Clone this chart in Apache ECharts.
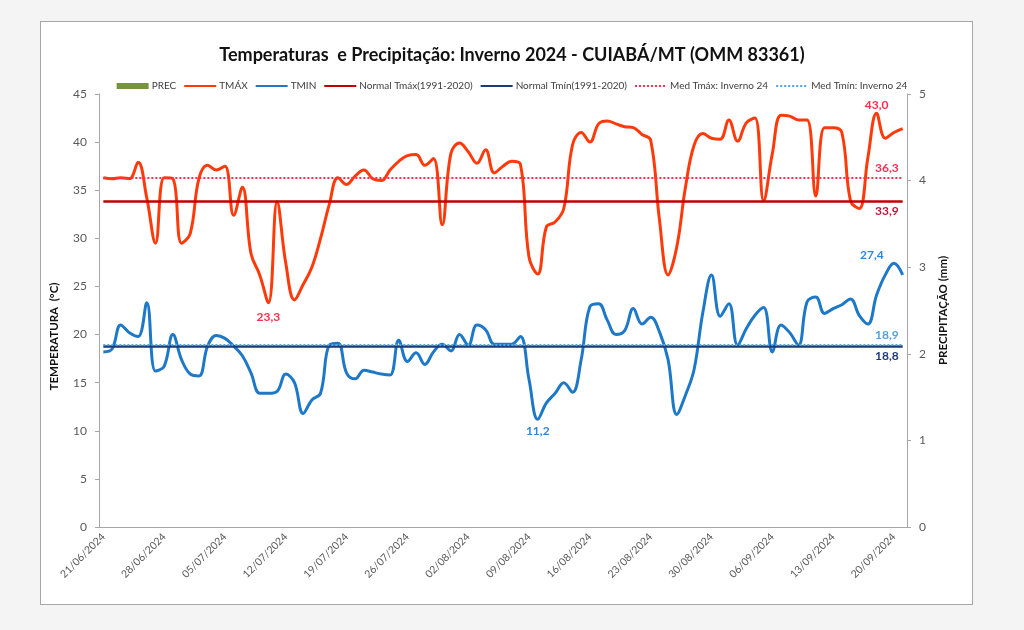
<!DOCTYPE html>
<html>
<head>
<meta charset="utf-8">
<script src="https://cdn.jsdelivr.net/npm/echarts@6/dist/echarts.min.js"></script>
<style>
  html, body { margin:0; padding:0; background:#f4f4f4; }
  #frame { position:absolute; left:40px; top:21px; width:931px; height:582px; background:#fff; border:1px solid #a6a6a6; }
  #chart { position:absolute; left:0; top:0; width:1024px; height:630px; }
</style>
</head>
<body>
<div id="frame"></div>
<div id="chart"></div>
<script>
// ---- data ----
const startDate = Date.UTC(2024, 5, 21);
const nDays = 93; // 21/06/2024 .. 21/09/2024
const dates = [];
for (let i = 0; i < nDays; i++) {
  const d = new Date(startDate + i * 86400000);
  const dd = String(d.getUTCDate()).padStart(2, '0');
  const mm = String(d.getUTCMonth() + 1).padStart(2, '0');
  dates.push(dd + '/' + mm + '/' + d.getUTCFullYear());
}

const tmax = [
  36.3, 36.2, 36.3, 36.2, 37.9, 34.2, 29.5, 36.3, 36.2, 29.5,
  30.5, 36.2, 37.6, 37.1, 37.5, 32.4, 35.3, 28.4, 26.2, 23.3,
  33.8, 27.4, 23.6, 25.2, 27.0, 30.0, 33.5, 36.3, 35.6, 36.5,
  37.1, 36.2, 36.0, 37.1, 38.0, 38.6, 38.7, 37.6, 38.3, 31.4,
  38.8, 39.9, 39.0, 37.8, 39.2, 36.8, 37.5, 38.0, 37.7, 28.0,
  26.3, 31.2, 31.7, 33.1, 39.7, 41.0, 40.0, 41.9, 42.2, 41.9,
  41.6, 41.5, 40.8, 40.2, 32.0, 26.2, 29.1, 35.3, 39.7, 40.9,
  40.4, 40.3, 42.3, 40.1, 42.0, 42.5, 33.9, 38.8, 42.8, 42.7,
  42.3, 42.3, 34.4, 41.5, 41.5, 41.0, 33.9, 33.1, 38.4, 43.0,
  40.4, 41.0, 41.4
];

const tmin = [
  18.2, 18.5, 21.0, 20.2, 19.8, 23.3, 16.2, 16.7, 20.0, 17.4,
  15.9, 15.7, 18.8, 19.9, 19.6, 18.8, 17.8, 16.0, 13.9, 13.9,
  14.1, 15.9, 15.0, 11.8, 13.2, 13.9, 18.9, 19.1, 16.0, 15.4,
  16.3, 16.1, 15.9, 15.8, 19.4, 17.2, 18.1, 16.9, 18.2, 19.0,
  18.3, 20.0, 18.9, 21.0, 20.5, 19.0, 19.0, 19.0, 19.8, 15.3,
  11.2, 12.9, 13.9, 15.0, 14.0, 17.4, 22.9, 23.2, 21.5, 20.0,
  20.4, 22.7, 21.1, 21.8, 20.3, 17.4, 11.7, 13.7, 16.4, 22.3,
  26.2, 21.9, 23.2, 18.9, 20.6, 22.0, 22.8, 18.2, 21.0, 20.2,
  18.9, 23.4, 23.9, 22.2, 22.7, 23.1, 23.7, 22.0, 21.1, 24.1,
  26.2, 27.4, 26.2
];

const prec = [
  0,0,0,0,0,0,0,0,0,0, 0,0,0,0,0,0,0,0,0,0,
  0,0,0,0,0,0,0,0,0,0, 0,0,0,0,0,0,0,0,0,0,
  0,0,0,0,0,0,0,0,0,0, 0,0,0,0,0,0,0,0,0,0,
  0,0,0,0,0,0,0,0,0,0, 0,0,0,0,0,0,0,0,0,0,
  0,0,0,0,0,0,0,0,0,0, 0,0,0
];

const normalTmax = 33.9;
const normalTmin = 18.8;
const medTmax = 36.3;
const medTmin = 18.9;

const tempTicks = { min: 0, max: 45, interval: 5 };
const precTicks = { min: 0, max: 5, interval: 1 };

// ---- chart ----
const FONT = 'Lato';
const fmt = v => Number(v).toFixed(1).replace('.', ',');
const chart = echarts.init(document.getElementById('chart'), null, { renderer: 'canvas' });

function refLine(name, value, color, type, width, labelPos, labelColor) {
  return {
    name: name, type: 'line', data: [], symbol: 'none',
    color: color,
    lineStyle: { color: color, width: width, type: type },
    markLine: {
      silent: true, symbol: ['none', 'none'], animation: false,
      lineStyle: { color: color, width: width, type: type },
      label: {
        show: true, position: labelPos, formatter: fmt(value),
        color: labelColor, fontFamily: FONT, fontWeight: 'bold', fontSize: 12,
        distance: [4, 4]
      },
      data: [[{ coord: [dates[0], value] }, { coord: [dates[nDays - 1], value] }]]
    }
  };
}

const noSym = { opacity: 0 };

const option = {
  animation: false,
  textStyle: { fontFamily: FONT },
  title: {
    text: 'Temperaturas  e Precipitação: Inverno 2024 - CUIABÁ/MT (OMM 83361)',
    left: 'center', top: 41,
    textStyle: { fontFamily: FONT, fontSize: 18, fontWeight: 'bold', color: '#111' }
  },
  legend: {
    top: 76, left: 'center', itemWidth: 32, itemHeight: 6, itemGap: 7,
    textStyle: { fontFamily: FONT, fontSize: 10, color: '#404040', padding: [0, 0, 0, -2] },
    data: [
      { name: 'PREC', icon: 'rect' },
      { name: 'TMÁX', itemStyle: noSym },
      { name: 'TMIN', itemStyle: noSym },
      { name: 'Normal Tmáx(1991-2020)', itemStyle: noSym },
      { name: 'Normal Tmín(1991-2020)', itemStyle: noSym },
      { name: 'Med Tmáx: Inverno 24', itemStyle: noSym },
      { name: 'Med Tmín: Inverno 24', itemStyle: noSym }
    ]
  },
  grid: { left: 99, right: 117, top: 94, bottom: 103 },
  xAxis: {
    type: 'category', data: dates, boundaryGap: true,
    axisLine: { lineStyle: { color: '#a6a6a6' } },
    axisTick: { interval: 6, length: 4, lineStyle: { color: '#a6a6a6' } },
    axisLabel: { interval: 6, rotate: 45, fontSize: 10.5, color: '#595959', fontFamily: FONT, margin: 8 },
    splitLine: { show: false }
  },
  yAxis: [
    {
      type: 'value', min: tempTicks.min, max: tempTicks.max, interval: tempTicks.interval,
      name: 'TEMPERATURA  (°C)', nameLocation: 'middle', nameRotate: 90, nameGap: 39,
      nameTextStyle: { fontFamily: FONT, fontWeight: 'bold', fontSize: 11.5, color: '#111', padding: [0, 52, 0, 0] },
      axisLine: { show: true, lineStyle: { color: '#a6a6a6' } },
      axisTick: { show: true, length: 4, lineStyle: { color: '#a6a6a6' } },
      axisLabel: { fontSize: 12, color: '#595959', fontFamily: FONT, margin: 12 },
      splitLine: { show: false }
    },
    {
      type: 'value', min: precTicks.min, max: precTicks.max, interval: precTicks.interval,
      position: 'right',
      name: 'PRECIPITAÇÃO (mm)', nameLocation: 'middle', nameRotate: 90, nameGap: 30,
      nameTextStyle: { fontFamily: FONT, fontWeight: 'bold', fontSize: 11.5, color: '#111' },
      axisLine: { show: true, lineStyle: { color: '#a6a6a6' } },
      axisTick: { show: true, length: 4, lineStyle: { color: '#a6a6a6' } },
      axisLabel: { fontSize: 12, color: '#595959', fontFamily: FONT, margin: 12 },
      splitLine: { show: false }
    }
  ],
  series: [
    {
      name: 'PREC', type: 'bar', yAxisIndex: 1, data: prec, color: '#77933C',
      itemStyle: { color: '#77933C' }, barWidth: '70%'
    },
    {
      name: 'TMÁX', type: 'line', data: tmax, smooth: 0.4, symbol: 'none', color: '#FF3A0A',
      lineStyle: { color: '#FF3A0A', width: 3 },
      markPoint: {
        symbol: 'circle', symbolSize: 0, animation: false,
        label: { fontFamily: FONT, fontWeight: 'bold', fontSize: 12, color: '#FF2D4B', formatter: p => fmt(p.value) },
        data: [
          { type: 'max', label: { position: 'top', distance: 2 } },
          { type: 'min', label: { position: 'bottom', distance: 8 } }
        ]
      }
    },
    {
      name: 'TMIN', type: 'line', data: tmin, smooth: 0.4, symbol: 'none', color: '#1E78C8',
      lineStyle: { color: '#1E78C8', width: 3 },
      markPoint: {
        symbol: 'circle', symbolSize: 0, animation: false,
        label: { fontFamily: FONT, fontWeight: 'bold', fontSize: 12, color: '#2E86DE', formatter: p => fmt(p.value) },
        data: [
          { type: 'max', label: { position: 'top', distance: 2, offset: [-22, 0] } },
          { type: 'min', label: { position: 'bottom', distance: 6 } }
        ]
      }
    },
    refLine('Normal Tmáx(1991-2020)', normalTmax, '#C00000', 'solid', 2.5, 'insideEndBottom', '#C0143C'),
    refLine('Normal Tmín(1991-2020)', normalTmin, '#1F3A78', 'solid', 2.5, 'insideEndBottom', '#1F3A78'),
    refLine('Med Tmáx: Inverno 24', medTmax, '#FF2D55', 'dotted', 2, 'insideEndTop', '#FF2D55'),
    refLine('Med Tmín: Inverno 24', medTmin, '#4FA3E0', 'dotted', 2, 'insideEndTop', '#4FA3E0')
  ]
};
chart.setOption(option);
</script>
</body>
</html>
